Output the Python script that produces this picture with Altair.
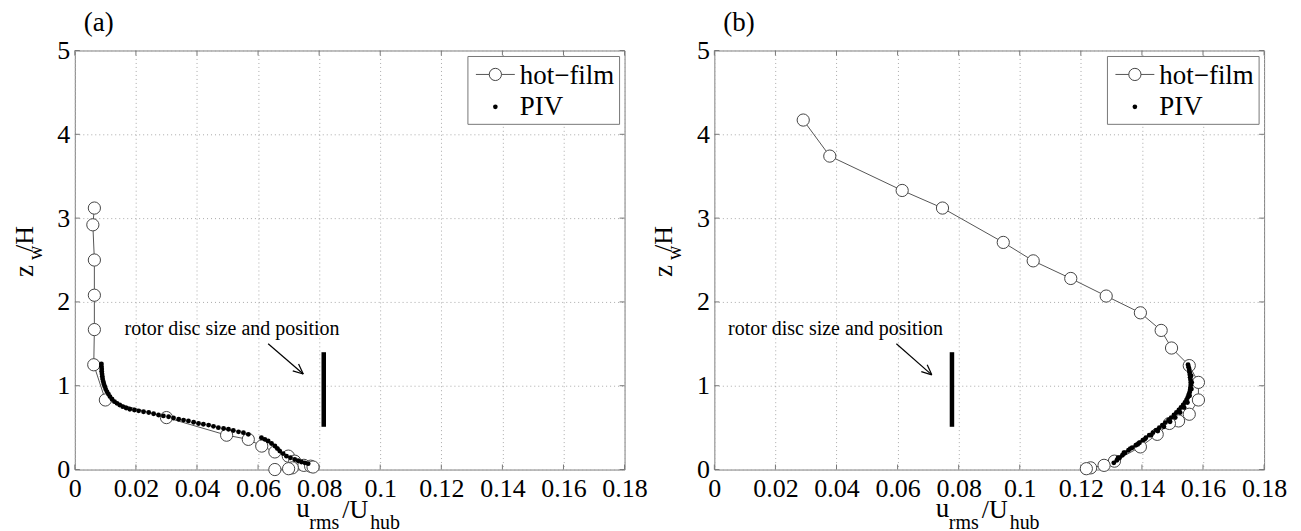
import altair as alt
import numpy as np
import pandas as pd

FONT = "Liberation Serif"
W, H = 551, 420           # plot area of each panel (px)
X_MAX, Z_MAX = 0.18, 5.0

x_ticks = [0, 0.02, 0.04, 0.06, 0.08, 0.1, 0.12, 0.14, 0.16, 0.18]
z_ticks = [0, 1, 2, 3, 4, 5]

# ---- panel (a) -------------------------------------------------------------
a_hf_u = [0.0064, 0.0059, 0.0064, 0.0064, 0.0064, 0.0062, 0.0100, 0.0300, 0.0497,
          0.0568, 0.0612, 0.0655, 0.0699, 0.0720, 0.0750, 0.0772, 0.0780, 0.0712,
          0.0700, 0.0655]
a_hf_z = [3.12, 2.92, 2.50, 2.08, 1.67, 1.25, 0.83, 0.62, 0.41,
          0.36, 0.28, 0.21, 0.16, 0.10, 0.05, 0.04, 0.03, 0.02,
          0.01, 0.0]

a_piv_u = [0.0087, 0.0087, 0.0088, 0.0088, 0.0089, 0.0090, 0.0091, 0.0093, 0.0095,
           0.0098, 0.0101, 0.0105, 0.0110, 0.0115, 0.0122, 0.0130, 0.0138, 0.0147,
           0.0157, 0.0168, 0.0180, 0.0195, 0.0209, 0.0225, 0.0242, 0.0258, 0.0274,
           0.0290, 0.0307, 0.0323, 0.0340, 0.0356, 0.0372, 0.0389, 0.0405, 0.0421,
           0.0438, 0.0454, 0.0470, 0.0487, 0.0503, 0.0519, 0.0536, 0.0552, 0.0568,
           0.0611, 0.0622, 0.0633, 0.0644, 0.0655, 0.0663, 0.0671, 0.0682, 0.0693,
           0.0706, 0.0720, 0.0731, 0.0742, 0.0753, 0.0764]
a_piv_z = [1.26, 1.23, 1.20, 1.17, 1.14, 1.11, 1.08, 1.05, 1.02,
           0.99, 0.96, 0.93, 0.90, 0.87, 0.84, 0.81, 0.79, 0.77,
           0.75, 0.735, 0.72, 0.71, 0.70, 0.69, 0.68, 0.665, 0.65,
           0.64, 0.63, 0.615, 0.60, 0.59, 0.58, 0.565, 0.55, 0.54,
           0.53, 0.515, 0.50, 0.49, 0.48, 0.465, 0.45, 0.44, 0.42,
           0.38, 0.36, 0.34, 0.31, 0.28, 0.25, 0.22, 0.19, 0.16,
           0.14, 0.12, 0.105, 0.09, 0.08, 0.07]

# ---- panel (b) -------------------------------------------------------------
b_hf_u = [0.0291, 0.0378, 0.0615, 0.0747, 0.0946, 0.1044, 0.1167, 0.1283, 0.1395,
          0.1463, 0.1497, 0.1555, 0.1585, 0.1585, 0.1555, 0.1520, 0.1490, 0.1450,
          0.1395, 0.1310, 0.1276, 0.1232, 0.1218]
b_hf_z = [4.17, 3.74, 3.33, 3.12, 2.71, 2.49, 2.28, 2.07, 1.87,
          1.66, 1.45, 1.24, 1.04, 0.83, 0.66, 0.58, 0.55, 0.42,
          0.27, 0.10, 0.05, 0.02, 0.01]

b_piv_u = [0.1308, 0.1318, 0.1327, 0.1336, 0.1345, 0.1356, 0.1368, 0.1380, 0.1392,
           0.1403, 0.1413, 0.1424, 0.1436, 0.1447, 0.1457, 0.1467, 0.1477, 0.1487,
           0.1496, 0.1505, 0.1513, 0.1521, 0.1528, 0.1535, 0.1541, 0.1546, 0.1550,
           0.1553, 0.1556, 0.1558, 0.1559, 0.1560, 0.1560, 0.1559, 0.1558, 0.1557,
           0.1556, 0.1555, 0.1553, 0.1551,
           0.1322, 0.1341, 0.1362, 0.1386, 0.1409, 0.1430, 0.1452, 0.1472, 0.1492,
           0.1509, 0.1525, 0.1538, 0.1549, 0.1556, 0.1562, 0.1563, 0.1561]
b_piv_z = [0.08, 0.11, 0.14, 0.17, 0.20, 0.23, 0.26, 0.29, 0.32,
           0.35, 0.38, 0.41, 0.44, 0.47, 0.50, 0.53, 0.56, 0.59,
           0.62, 0.65, 0.68, 0.71, 0.74, 0.77, 0.80, 0.83, 0.86,
           0.89, 0.92, 0.95, 0.98, 1.01, 1.04, 1.07, 1.10, 1.13,
           1.16, 1.19, 1.22, 1.25,
           0.14, 0.20, 0.25, 0.30, 0.36, 0.41, 0.46, 0.51, 0.57,
           0.62, 0.68, 0.74, 0.80, 0.88, 0.96, 1.04, 1.12]

# rotor disc bar: [u, z_bottom, z_top]
a_rotor = [0.0815, 0.51, 1.40]
b_rotor = [0.0778, 0.51, 1.40]
# annotation arrow: [u0, z0, u1, z1] and note anchor [u, z]
a_arrow = [0.0633, 1.50, 0.0748, 1.14]
b_arrow = [0.0596, 1.50, 0.0712, 1.13]
a_note = [0.0163, 1.61]
b_note = [0.0045, 1.61]
NOTE = "rotor disc size and position"

PX_U = W / X_MAX
PX_Z = H / Z_MAX

x_scale = alt.Scale(domain=[0, X_MAX], nice=False, zero=False)
z_scale = alt.Scale(domain=[0, Z_MAX], nice=False, zero=False)
x_axis = alt.Axis(values=x_ticks, format="~g", title=None, grid=True, ticks=False,
                  domain=False, labelPadding=6, labelFlush=False)
z_axis = alt.Axis(values=z_ticks, format="~g", title=None, grid=True, ticks=False,
                  domain=False, labelPadding=5, labelFlush=False)


def X(field="u"):
    return alt.X(f"{field}:Q", scale=x_scale, axis=x_axis)


def Z(field="z"):
    return alt.Y(f"{field}:Q", scale=z_scale, axis=z_axis)


def arrow_segments(u0, z0, u1, z1, head=11.0, spread=np.radians(24)):
    dx = (u1 - u0) * PX_U
    dz = (z1 - z0) * PX_Z
    ang = np.arctan2(dz, dx)
    rows = [(u0, z0, u1, z1)]
    for s in (spread, -spread):
        a = ang + np.pi + s
        rows.append((u1, z1, u1 + head * np.cos(a) / PX_U, z1 + head * np.sin(a) / PX_Z))
    return pd.DataFrame(rows, columns=["u", "z", "u2", "z2"])


def text_piece(txt, x, y, size, angle=0):
    return alt.Chart(pd.DataFrame({"t": [txt]})).mark_text(
        text=txt, font=FONT, fontSize=size, align="left", baseline="alphabetic",
        angle=angle, color="black"
    ).encode(x=alt.value(x), y=alt.value(y))


def panel(tag, hf_u, hf_z, piv_u, piv_z, rotor, arrow, note, anchor):
    hf = pd.DataFrame({"u": hf_u, "z": hf_z, "i": range(len(hf_u))})
    piv = pd.DataFrame({"u": piv_u, "z": piv_z})
    layers = []

    # invisible corner block that pins the canvas edge
    layers.append(alt.Chart(pd.DataFrame({"k": [0]})).mark_rect(opacity=0).encode(
        x=alt.value(anchor[0]), x2=alt.value(anchor[0] + 1),
        y=alt.value(anchor[1]), y2=alt.value(anchor[1] + 1)))

    # hot-film profile line
    layers.append(alt.Chart(hf).mark_line(color="#555", strokeWidth=1).encode(
        x=X(), y=Z(), order="i:Q"))

    # inward tick marks on all four sides
    xt = pd.DataFrame({"u": x_ticks})
    zt = pd.DataFrame({"z": z_ticks})
    tick_style = dict(color="#777", strokeWidth=1)
    layers.append(alt.Chart(xt).mark_rule(**tick_style).encode(
        x=X(), y=alt.value(H), y2=alt.value(H - 5)))
    layers.append(alt.Chart(xt).mark_rule(**tick_style).encode(
        x=X(), y=alt.value(0), y2=alt.value(5)))
    layers.append(alt.Chart(zt).mark_rule(**tick_style).encode(
        y=Z(), x=alt.value(0), x2=alt.value(5)))
    layers.append(alt.Chart(zt).mark_rule(**tick_style).encode(
        y=Z(), x=alt.value(W), x2=alt.value(W - 5)))

    # hot-film markers
    layers.append(alt.Chart(hf).mark_point(
        shape="circle", fill="white", fillOpacity=1, stroke="#444", strokeWidth=1,
        size=150, opacity=1).encode(x=X(), y=Z()))

    # PIV dots
    layers.append(alt.Chart(piv).mark_circle(color="black", size=24, opacity=1).encode(
        x=X(), y=Z()))

    # rotor disc bar
    rd = pd.DataFrame({"u": [rotor[0]], "z": [rotor[1]], "z2": [rotor[2]]})
    layers.append(alt.Chart(rd).mark_rule(color="black", strokeWidth=4.5).encode(
        x=X(), y=Z(), y2="z2:Q"))

    # annotation arrow and note
    ar = arrow_segments(*arrow)
    layers.append(alt.Chart(ar).mark_rule(color="black", strokeWidth=1.2).encode(
        x=X(), y=Z(), x2="u2:Q", y2="z2:Q"))
    nt = pd.DataFrame({"u": [note[0]], "z": [note[1]]})
    layers.append(alt.Chart(nt).mark_text(
        text=NOTE, font=FONT, fontSize=20, align="left", baseline="alphabetic",
        color="black").encode(x=X(), y=Z()))

    # legend box
    layers.append(alt.Chart(pd.DataFrame({"k": [0]})).mark_rect(
        fill="white", stroke="#777", strokeWidth=1).encode(
        x=alt.value(394), x2=alt.value(546), y=alt.value(6), y2=alt.value(74)))
    layers.append(alt.Chart(pd.DataFrame({"k": [0]})).mark_rule(
        color="#555", strokeWidth=1).encode(
        x=alt.value(402), x2=alt.value(441), y=alt.value(24)))
    layers.append(alt.Chart(pd.DataFrame({"k": [0]})).mark_point(
        shape="circle", fill="white", fillOpacity=1, stroke="#444", strokeWidth=1,
        size=150, opacity=1).encode(x=alt.value(421.5), y=alt.value(24)))
    layers.append(alt.Chart(pd.DataFrame({"k": [0]})).mark_circle(
        color="black", size=22, opacity=1).encode(x=alt.value(421.5), y=alt.value(56.5)))
    layers.append(text_piece("hot\u2212film", 446, 34, 27))
    layers.append(text_piece("PIV", 446, 65, 27))

    # panel tag
    layers.append(text_piece(tag, 9, -20, 27))

    # x axis title  u_rms / U_hub
    layers.append(text_piece("u", 222, 468, 27))
    layers.append(text_piece("rms", 235, 480, 20))
    layers.append(text_piece("/U", 268, 469, 26))
    layers.append(text_piece("hub", 296, 480, 20))

    # y axis title  z_w / H (rotated)
    layers.append(text_piece("z", -42, 227, 27, angle=270))
    layers.append(text_piece("w", -33, 210, 20, angle=270))
    layers.append(text_piece("/H", -42, 202, 26, angle=270))

    return alt.layer(*layers).properties(width=W, height=H)


left = panel("(a)", a_hf_u, a_hf_z, a_piv_u, a_piv_z, a_rotor, a_arrow, a_note,
             anchor=(-74, -49))
right = panel("(b)", b_hf_u, b_hf_z, b_piv_u, b_piv_z, b_rotor, b_arrow, b_note,
              anchor=(W + 35, H + 62))

chart = alt.hconcat(left, right, spacing=90, bounds="flush").properties(
    padding=0, background="white"
).configure_view(
    stroke="#808080", strokeWidth=1
).configure_axis(
    labelFont=FONT, labelFontSize=26, labelColor="black",
    gridColor="#aaaaaa", gridDash=[1, 3], gridWidth=1
)

chart.save("out.html", embed_options={"renderer": "svg", "actions": False})
